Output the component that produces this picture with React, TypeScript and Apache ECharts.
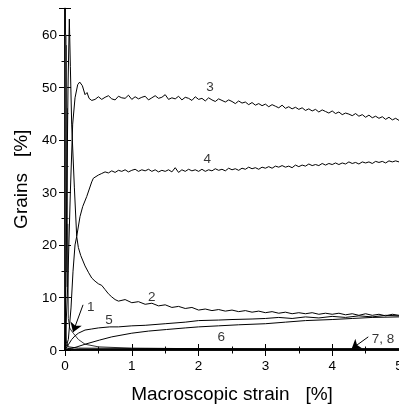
import React, { useEffect, useRef } from "react";
import * as echarts from "echarts";

const X_TICKS = [0, 1, 2, 3, 4, 5];
const Y_TICKS = [0, 10, 20, 30, 40, 50, 60];

const curve1: number[][] = [
  [0, 0], [0.004, 55], [0.008, 12], [0.012, 60], [0.016, 15], [0.02, 58], [0.025, 22],
  [0.03, 46], [0.035, 12], [0.04, 24], [0.05, 6], [0.07, 4.2], [0.1, 3.6], [0.124, 3.2],
  [0.2, 2.0], [0.3, 1.1], [0.5, 0.6], [1, 0.35], [2, 0.25], [3, 0.2], [5, 0.2],
];

const curve2: number[][] = [
  [0, 0], [0.02, 20], [0.045, 50], [0.065, 63], [0.08, 54], [0.1, 43], [0.14, 31],
  [0.175, 21.6], [0.2, 19.5], [0.235, 18], [0.3, 16], [0.35, 14.8], [0.4, 13.7],
  [0.45, 13.1], [0.5, 12.6], [0.55, 12.3], [0.6, 11.5], [0.65, 10.7], [0.7, 10.1],
  [0.75, 9.6], [0.8, 9.3], [0.9, 9.6], [1.0, 9.0], [1.1, 9.2], [1.2, 8.7], [1.3, 8.9],
  [1.4, 8.4], [1.5, 8.6], [1.6, 8.1], [1.7, 8.3], [1.8, 7.9], [1.9, 8.1], [2.0, 7.6],
  [2.1, 7.8], [2.2, 7.5], [2.3, 7.7], [2.4, 7.4], [2.5, 7.6], [2.6, 7.3], [2.7, 7.5],
  [2.8, 7.2], [2.9, 7.4], [3.0, 7.1], [3.1, 7.3], [3.2, 7.0], [3.3, 7.2], [3.4, 6.9],
  [3.5, 7.1], [3.6, 6.9], [3.7, 7.1], [3.8, 6.8], [3.9, 7.0], [4.0, 6.8], [4.1, 7.0],
  [4.2, 6.7], [4.3, 6.9], [4.4, 6.6], [4.5, 6.9], [4.6, 6.6], [4.7, 6.8], [4.8, 6.5],
  [4.9, 6.8], [5.0, 6.6],
];

const curve3: number[][] = [
  [0, 0], [0.04, 12], [0.08, 30], [0.115, 43], [0.15, 48], [0.19, 50.5], [0.22, 51],
  [0.26, 50.3], [0.3, 48.6], [0.33, 49.0], [0.36, 47.9], [0.4, 47.5], [0.45, 47.7],
  [0.50, 48.2], [0.55, 47.7], [0.60, 48.1], [0.65, 48.4], [0.70, 47.8], [0.75, 47.6],
  [0.80, 48.3], [0.85, 48.0], [0.90, 47.9], [0.95, 48.5], [1.00, 47.7], [1.05, 48.2],
  [1.10, 47.8], [1.15, 48.1], [1.20, 48.3], [1.25, 47.6], [1.30, 48.0], [1.35, 48.4],
  [1.40, 47.9], [1.45, 48.1], [1.50, 48.6], [1.55, 47.7], [1.60, 48.0], [1.65, 47.8],
  [1.70, 48.3], [1.75, 47.6], [1.80, 48.1], [1.85, 47.9], [1.90, 47.5], [1.95, 48.2],
  [2.00, 47.7], [2.05, 47.9], [2.10, 47.4], [2.15, 48.0], [2.20, 47.6], [2.25, 47.3],
  [2.30, 47.8], [2.35, 47.5], [2.40, 47.2], [2.45, 47.6], [2.50, 47.3], [2.55, 46.9],
  [2.60, 47.4], [2.65, 47.0], [2.70, 47.2], [2.75, 46.7], [2.80, 47.1], [2.85, 46.6],
  [2.90, 46.9], [2.95, 46.5], [3.00, 46.8], [3.05, 46.3], [3.10, 46.7], [3.15, 46.4],
  [3.20, 46.1], [3.25, 46.6], [3.30, 46.0], [3.35, 46.3], [3.40, 45.9], [3.45, 46.2],
  [3.50, 45.8], [3.55, 46.1], [3.60, 45.6], [3.65, 45.9], [3.70, 45.5], [3.75, 45.8],
  [3.80, 45.3], [3.85, 45.7], [3.90, 45.4], [3.95, 45.1], [4.00, 45.5], [4.05, 45.0],
  [4.10, 45.3], [4.15, 44.8], [4.20, 45.1], [4.25, 44.9], [4.30, 44.6], [4.35, 45.0],
  [4.40, 44.5], [4.45, 44.8], [4.50, 44.3], [4.55, 44.7], [4.60, 44.2], [4.65, 44.5],
  [4.70, 44.1], [4.75, 44.4], [4.80, 43.9], [4.85, 44.3], [4.90, 43.8], [4.95, 44.1],
  [5.00, 43.7],
];

const curve4: number[][] = [
  [0, 0], [0.05, 2], [0.09, 8], [0.12, 15], [0.15, 20], [0.175, 21.6], [0.225, 25.4],
  [0.265, 27.3], [0.325, 29.2], [0.4, 32.0], [0.425, 32.7], [0.5, 33.3],
  [0.55, 33.6], [0.60, 33.9], [0.65, 33.7], [0.70, 34.1], [0.75, 33.8], [0.80, 34.2],
  [0.85, 34.0], [0.90, 34.3], [0.95, 33.9], [1.00, 34.2], [1.05, 34.4], [1.10, 34.0],
  [1.15, 34.3], [1.20, 34.1], [1.25, 34.4], [1.30, 34.0], [1.35, 34.3], [1.40, 33.9],
  [1.45, 34.2], [1.50, 34.0], [1.55, 34.3], [1.60, 33.9], [1.65, 34.7], [1.70, 33.8],
  [1.75, 34.3], [1.80, 34.0], [1.85, 34.4], [1.90, 34.1], [1.95, 34.3], [2.00, 34.0],
  [2.05, 34.4], [2.10, 34.0], [2.15, 34.3], [2.20, 34.1], [2.25, 34.5], [2.30, 34.2],
  [2.35, 34.4], [2.40, 34.1], [2.45, 34.6], [2.50, 34.3], [2.55, 34.5], [2.60, 34.2],
  [2.65, 34.6], [2.70, 34.4], [2.75, 34.8], [2.80, 34.5], [2.85, 34.7], [2.90, 34.4],
  [2.95, 34.8], [3.00, 34.6], [3.05, 34.9], [3.10, 34.6], [3.15, 35.0], [3.20, 34.8],
  [3.25, 35.1], [3.30, 34.8], [3.35, 35.0], [3.40, 34.7], [3.45, 35.2], [3.50, 34.9],
  [3.55, 35.2], [3.60, 35.0], [3.65, 35.4], [3.70, 35.1], [3.75, 35.3], [3.80, 35.1],
  [3.85, 35.5], [3.90, 35.2], [3.95, 35.5], [4.00, 35.3], [4.05, 35.6], [4.10, 35.3],
  [4.15, 35.6], [4.20, 35.4], [4.25, 35.8], [4.30, 35.5], [4.35, 35.7], [4.40, 35.4],
  [4.45, 35.8], [4.50, 35.6], [4.55, 35.8], [4.60, 35.5], [4.65, 35.9], [4.70, 35.7],
  [4.75, 35.9], [4.80, 35.6], [4.85, 36.0], [4.90, 35.8], [4.95, 36.0], [5.00, 35.8],
];

const curve5: number[][] = [
  [0, 0], [0.05, 1], [0.1, 2], [0.15, 2.7], [0.2, 3.2], [0.3, 3.8], [0.4, 4.0],
  [0.5, 4.2], [0.67, 4.4], [0.8, 4.4], [1.0, 4.6], [1.2, 4.7], [1.5, 5.0], [1.8, 5.3],
  [2.0, 5.6], [2.3, 5.7], [2.5, 5.8], [2.8, 5.9], [3.0, 6.0], [3.2, 6.2], [3.4, 6.0],
  [3.6, 6.3], [3.8, 6.1], [4.0, 6.4], [4.2, 6.2], [4.4, 6.5], [4.6, 6.3], [4.8, 6.6],
  [5.0, 6.5],
];

const curve6: number[][] = [
  [0, 0], [0.1, 0.3], [0.18, 0.6], [0.3, 1.1], [0.52, 1.9], [0.7, 2.5], [1.0, 3.2],
  [1.25, 3.6], [1.52, 3.9], [1.8, 4.2], [2.0, 4.4], [2.3, 4.6], [2.6, 4.8], [3.0, 5.0],
  [3.3, 5.3], [3.6, 5.6], [4.0, 5.8], [4.3, 6.0], [4.6, 6.2], [5.0, 6.3],
];

const curve7: number[][] = [
  [0, 0], [0.01, 6], [0.02, 1.5], [0.05, 0.6], [0.2, 0.35], [1, 0.3], [3, 0.25], [5, 0.25],
];

const curve8: number[][] = [
  [0, 0], [0.02, 0.4], [0.1, 0.15], [1, 0.1], [5, 0.1],
];

const CURVE_LABELS = [
  { name: "1", value: [0.385, 8.3] },
  { name: "5", value: [0.66, 5.8] },
  { name: "2", value: [1.3, 10.1] },
  { name: "6", value: [2.34, 2.5] },
  { name: "7, 8", value: [4.76, 2.1] },
  { name: "3", value: [2.17, 50.1] },
  { name: "4", value: [2.13, 36.5] },
];

const ARROWS = [
  { coords: [[0.27, 8.6], [0.12, 3.4]] },
  { coords: [[4.54, 2.5], [4.29, 0.2]] },
];

const FONT = "Liberation Sans";

export default function App() {
  const ref = useRef<HTMLDivElement>(null);
  useEffect(() => {
    document.body.style.margin = "0";
    if (!ref.current) return;
    const chart = echarts.init(ref.current, null, { renderer: "svg" });
    const lineSeries = (data: number[][], w = 1) => ({
      type: "line",
      data,
      showSymbol: false,
      symbol: "none",
      lineStyle: { color: "#000", width: w },
      silent: true,
    });
    const axisCommon = {
      axisLine: { show: true, lineStyle: { color: "#000", width: 1.5 } },
      axisTick: { show: true, inside: true, length: 6, lineStyle: { color: "#000", width: 1 } },
      minorTick: { show: true, splitNumber: 2, length: 3.5, lineStyle: { color: "#000", width: 1 } },
      splitLine: { show: false },
    };
    chart.setOption({
      animation: false,
      grid: { left: 65, right: 0, top: 8.5, bottom: 62, outerBoundsMode: "none", containLabel: false },
      xAxis: [
        {
          type: "value",
          min: X_TICKS[0],
          max: X_TICKS[X_TICKS.length - 1],
          interval: 1,
          position: "bottom",
          ...axisCommon,
          axisLabel: { color: "#000", fontSize: 13.5, fontFamily: FONT, margin: 8 },
          name: "Macroscopic strain   [%]",
          nameLocation: "middle",
          nameGap: 34,
          nameTextStyle: { color: "#000", fontSize: 19, fontFamily: FONT },
        },
        {
          type: "value",
          min: X_TICKS[0],
          max: X_TICKS[X_TICKS.length - 1],
          interval: 1,
          position: "top",
          ...axisCommon,
          axisLabel: { show: false },
        },
      ],
      yAxis: [
        {
          type: "value",
          min: Y_TICKS[0],
          max: 65,
          interval: 10,
          position: "left",
          ...axisCommon,
          axisLabel: {
            color: "#000",
            fontSize: 13.5,
            fontFamily: FONT,
            margin: 8,
            showMaxLabel: false,
            formatter: (v: number) => (Y_TICKS.includes(v) ? String(v) : ""),
          },
          name: "Grains   [%]",
          nameLocation: "middle",
          nameGap: 35,
          nameTextStyle: { color: "#000", fontSize: 19, fontFamily: FONT },
        },
        {
          type: "value",
          min: Y_TICKS[0],
          max: 65,
          interval: 10,
          position: "right",
          ...axisCommon,
          axisLabel: { show: false },
        },
      ],
      series: [
        { ...lineSeries(curve1), lineStyle: { color: "#333", width: 1 } },
        lineSeries(curve2),
        lineSeries(curve3),
        lineSeries(curve4),
        lineSeries(curve5),
        lineSeries(curve6),
        lineSeries(curve7),
        lineSeries(curve8),
        {
          type: "scatter",
          data: CURVE_LABELS,
          symbolSize: 0,
          silent: true,
          label: {
            show: true,
            position: "inside",
            formatter: "{b}",
            color: "#000",
            fontSize: 13.5,
            fontFamily: FONT,
          },
        },
        {
          type: "lines",
          coordinateSystem: "cartesian2d",
          data: ARROWS,
          symbol: ["none", "arrow"],
          symbolSize: [5, 9],
          silent: true,
          lineStyle: { color: "#000", width: 1, opacity: 1 },
          itemStyle: { color: "#000" },
        },
      ],
    });
    return () => chart.dispose();
  }, []);
  return <div ref={ref} style={{ position: "fixed", left: 0, top: 0, width: 399, height: 412 }} />;
}
